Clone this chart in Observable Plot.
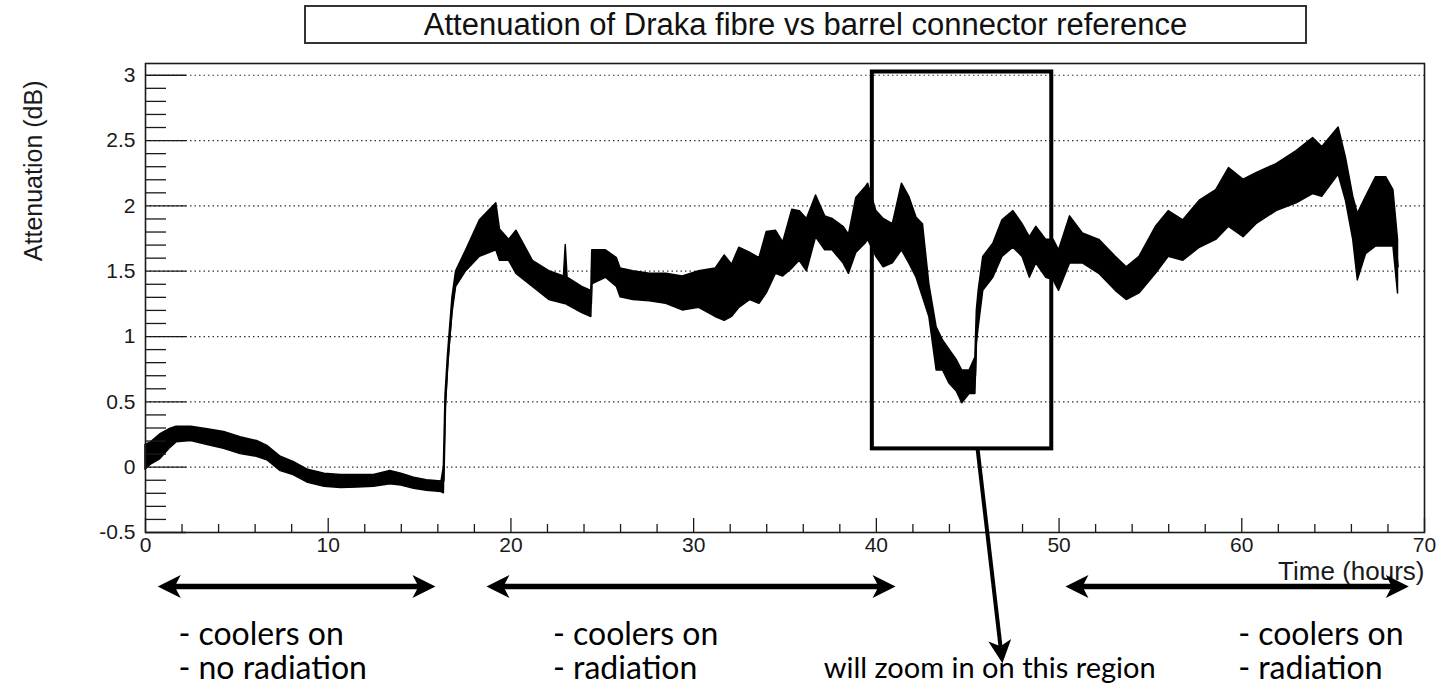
<!DOCTYPE html>
<html><head><meta charset="utf-8">
<script src="https://cdn.jsdelivr.net/npm/d3@7"></script>
<script src="https://cdn.jsdelivr.net/npm/@observablehq/plot@0.6"></script>
<style>
html,body{margin:0;padding:0;background:#fff;}
#wrap{position:relative;width:1439px;height:686px;overflow:hidden;background:#fff;}
#chart{position:absolute;left:0;top:0;}
#title{position:absolute;left:304px;top:5px;width:999px;height:35px;border:2px solid #333;
  font:31px "Liberation Sans",Arial,sans-serif;color:#111;text-align:center;line-height:35px;background:#fff;}
</style></head><body>
<div id="wrap"><div id="chart"></div><div id="title">Attenuation of Draka fibre vs barrel connector reference</div></div>
<script>
const hours = [0,0.3,0.8,1.3,1.7,2.5,3.4,4.3,5.2,6.1,6.7,7.4,8.1,8.9,9.8,10.7,11.6,12.5,13.4,14.0,14.7,15.4,16.2,16.33,16.42,16.55,16.66,16.8,17.0,17.55,18.3,19.2,19.4,19.9,20.3,21.2,22.1,22.9,23.0,23.1,23.9,24.4,24.45,25.2,25.8,26.0,26.7,27.6,28.5,29.4,30.3,31.2,31.7,32.1,32.5,33.1,33.6,34.0,34.5,34.9,35.4,35.8,36.2,36.7,37.2,37.6,38.2,38.5,38.9,39.4,39.55,40.0,40.4,40.9,41.4,41.8,42.2,42.55,42.9,43.3,43.65,44.0,44.4,44.7,45.1,45.42,45.5,45.6,45.85,46.4,46.9,47.5,48.0,48.4,48.75,49.3,49.7,50.0,50.6,51.3,52.2,53.1,53.7,54.4,55.3,56.0,56.8,57.7,58.6,59.3,60.1,60.8,61.9,63.0,63.9,64.4,65.3,65.7,66.1,66.35,66.8,67.35,67.9,68.3,68.55];
const low = [-0.02,0.02,0.06,0.14,0.19,0.20,0.17,0.14,0.10,0.08,0.05,-0.03,-0.06,-0.12,-0.15,-0.16,-0.155,-0.15,-0.13,-0.14,-0.165,-0.18,-0.19,-0.20,0.42,0.75,0.95,1.18,1.38,1.50,1.61,1.66,1.58,1.58,1.48,1.38,1.28,1.25,1.25,1.24,1.18,1.15,1.40,1.45,1.38,1.30,1.28,1.27,1.25,1.20,1.22,1.15,1.12,1.15,1.22,1.28,1.25,1.33,1.48,1.46,1.52,1.58,1.50,1.76,1.66,1.66,1.56,1.48,1.64,1.71,1.74,1.61,1.53,1.56,1.66,1.56,1.45,1.30,1.15,0.74,0.74,0.64,0.58,0.49,0.56,0.56,0.95,1.07,1.35,1.45,1.61,1.68,1.61,1.45,1.56,1.45,1.43,1.35,1.56,1.56,1.48,1.35,1.28,1.33,1.48,1.61,1.58,1.68,1.74,1.84,1.76,1.86,1.96,2.02,2.09,2.07,2.24,2.04,1.74,1.43,1.63,1.69,1.69,1.69,1.33];
const high = [0.17,0.19,0.25,0.29,0.31,0.31,0.29,0.27,0.23,0.20,0.16,0.08,0.04,-0.02,-0.05,-0.06,-0.06,-0.06,-0.03,-0.05,-0.08,-0.10,-0.11,0.0,0.55,0.85,1.05,1.30,1.50,1.66,1.89,2.02,1.82,1.74,1.81,1.58,1.50,1.46,1.70,1.45,1.38,1.35,1.66,1.66,1.60,1.52,1.50,1.48,1.48,1.46,1.50,1.52,1.62,1.55,1.68,1.64,1.60,1.80,1.81,1.72,1.97,1.96,1.90,2.08,1.92,1.90,1.84,1.78,2.06,2.14,2.17,1.96,1.90,1.86,2.17,2.07,1.91,1.86,1.40,1.07,0.97,0.90,0.82,0.74,0.74,0.84,1.20,1.35,1.61,1.71,1.89,1.96,1.86,1.76,1.84,1.74,1.74,1.66,1.92,1.79,1.74,1.61,1.53,1.61,1.84,1.96,1.89,2.04,2.12,2.29,2.20,2.25,2.32,2.42,2.52,2.45,2.60,2.37,2.07,1.94,2.07,2.22,2.22,2.12,1.74];

// axis tick labels
const xTickLabels = [0,10,20,30,40,50,60,70];
const yTickLabels = [-0.5,0,0.5,1,1.5,2,2.5,3];

// annotations (hours / dB)
const phaseFrom = [0.67, 18.66, 50.35];
const phaseTo   = [15.87, 41.05, 69.14];
const phaseNoteAt = [1.8, 22.3, 59.8];
const phaseLine1 = ["- coolers on", "- coolers on", "- coolers on"];
const phaseLine2 = ["- no radiation", "- radiation", "- radiation"];
const zoomBox = {t1: 39.78, t2: 49.6, v1: 0.14, v2: 3.025};
const pointerFrom = {t: 45.54, v: 0.14};
const pointerTo = {t: 46.9, v: -1.5};
const pointerText = "will zoom in on this region";
const pointerTextAt = 46.2;

// ---- layout
const W = 1439, H = 686, ML = 145, MR = 15, MT = 63, MB = 154;
const XD = [0, 70], YD = [-0.5, 3.09];
const fw = W - ML - MR, fh = H - MT - MB;
const pxH = fw / (XD[1] - XD[0]);   // px per hour
const pxV = fh / (YD[1] - YD[0]);   // px per dB
const vAt = py => YD[1] - (py - MT) / pxV; // page y -> dB (for annotation rows below the frame)

const rows = hours.map((t, i) => ({t, lo: low[i], hi: high[i]}));
const yMinor = d3.range(-0.4, 3.0, 0.1).map(v => Math.round(v * 10) / 10).filter(v => !yTickLabels.includes(v));
const xMinor = d3.range(2, 70, 2).filter(v => !xTickLabels.includes(v));

function head(angle, L = 23, hw = 11.5, notch = 6) {
  const c = Math.cos(angle), s = Math.sin(angle);
  const pts = [[0, 0], [-L, -hw], [-L + notch, 0], [-L, hw]].map(([x, y]) => [x * c - y * s, x * s + y * c]);
  return {draw(ctx) { ctx.moveTo(pts[0][0], pts[0][1]); for (let i = 1; i < pts.length; i++) ctx.lineTo(pts[i][0], pts[i][1]); ctx.closePath(); }};
}

const arrowV = vAt(586);
const shaftInset = 15 / pxH;
const spans = phaseFrom.map((f, i) => ({f, to: phaseTo[i]}));

const pdx = (pointerTo.t - pointerFrom.t) * pxH, pdy = (pointerFrom.v - pointerTo.v) * pxV;
const pang = Math.atan2(pdy, pdx);
const pointerShaft = [{t1: pointerFrom.t, v1: pointerFrom.v,
  t2: pointerTo.t - 15 * Math.cos(pang) / pxH, v2: pointerTo.v + 15 * Math.sin(pang) / pxV}];

const notes = [];
phaseNoteAt.forEach((t, i) => {
  notes.push({t, v: vAt(634), text: phaseLine1[i]});
  notes.push({t, v: vAt(668), text: phaseLine2[i]});
});

const ink = "#1a1a1a";
const chart = Plot.plot({
  width: W, height: H, marginLeft: ML, marginRight: MR, marginTop: MT, marginBottom: MB,
  x: {domain: XD, label: null},
  y: {domain: YD, label: null},
  style: {fontFamily: "'Liberation Sans', Arial, sans-serif", color: ink, background: "white", overflow: "visible"},
  marks: [
    Plot.gridY(yTickLabels.filter(v => v > -0.5), {stroke: "#333", strokeOpacity: 1, strokeDasharray: "1.5,3", strokeWidth: 1.2}),
    Plot.areaY(rows, {x: "t", y1: "lo", y2: "hi", fill: "#000", stroke: "#000", strokeWidth: 1.5}),
    Plot.line(rows, {x: "t", y: d => (d.lo + d.hi) / 2, stroke: "#000", strokeWidth: 1.6}),
    Plot.tickY(yMinor, {y: d => d, stroke: ink, strokeWidth: 1.3, insetRight: fw - 21}),
    Plot.tickY(yTickLabels, {y: d => d, stroke: ink, strokeWidth: 1.3, insetRight: fw - 41}),
    Plot.tickX(xMinor, {x: d => d, stroke: ink, strokeWidth: 1.3, insetTop: fh - 8}),
    Plot.tickX(xTickLabels, {x: d => d, stroke: ink, strokeWidth: 1.3, insetTop: fh - 14}),
    Plot.frame({stroke: ink, strokeWidth: 1.6}),
    Plot.axisY(yTickLabels, {tickSize: 0, tickPadding: 10, fontSize: 21, tickFormat: d => String(d), label: null}),
    Plot.axisX(xTickLabels, {tickSize: 0, tickPadding: 5, fontSize: 21, tickFormat: d => String(d), label: null}),
    Plot.text(["Attenuation (dB)"], {text: d => d, frameAnchor: "top-left", lineAnchor: "middle", rotate: -90, textAnchor: "end", dx: -112, dy: 17, fontSize: 25, fill: ink}),
    Plot.text(["Time (hours)"], {text: d => d, frameAnchor: "bottom-right", lineAnchor: "middle", textAnchor: "end", dy: 39, fontSize: 26, fill: ink}),
    // zoom box and pointer
    Plot.rect([zoomBox], {x1: "t1", x2: "t2", y1: "v1", y2: "v2", fill: "none", stroke: "#000", strokeWidth: 4}),
    Plot.link(pointerShaft, {x1: "t1", y1: "v1", x2: "t2", y2: "v2", stroke: "#000", strokeWidth: 4}),
    Plot.dot([pointerTo], {x: "t", y: "v", symbol: head(pang), r: 5, fill: "#000", stroke: "none"}),
    // phase arrows
    Plot.link(spans, {x1: d => d.f + shaftInset, x2: d => d.to - shaftInset, y1: arrowV, y2: arrowV, stroke: "#000", strokeWidth: 5.5}),
    Plot.dot(spans, {x: "f", y: arrowV, symbol: head(Math.PI), r: 5, fill: "#000", stroke: "none"}),
    Plot.dot(spans, {x: "to", y: arrowV, symbol: head(0), r: 5, fill: "#000", stroke: "none"}),
    Plot.text(notes, {x: "t", y: "v", text: "text", textAnchor: "start", fontFamily: "Lato, 'Open Sans', sans-serif", fontSize: 32, fill: "#000"}),
    Plot.text([pointerText], {x: pointerTextAt, y: vAt(668), text: d => d, textAnchor: "middle", fontFamily: "Lato, 'Open Sans', sans-serif", fontSize: 29, fill: "#000"})
  ]
});
document.getElementById("chart").appendChild(chart);
</script>
</body></html>
